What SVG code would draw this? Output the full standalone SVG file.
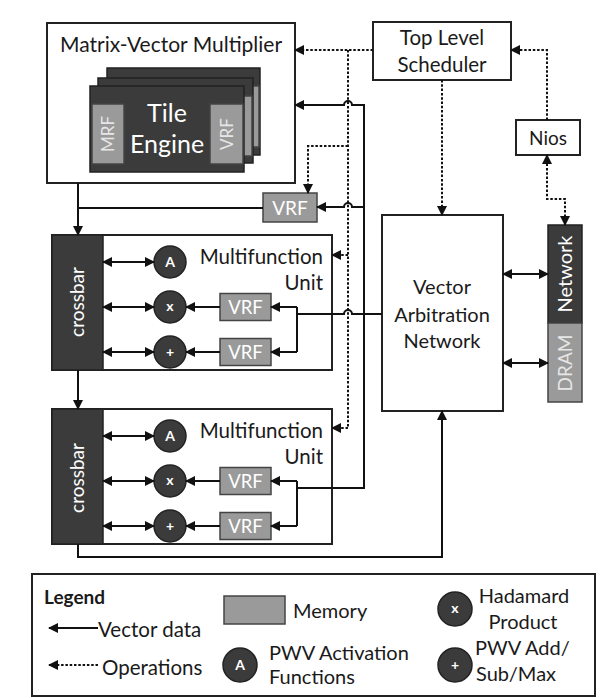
<svg xmlns="http://www.w3.org/2000/svg" width="613" height="698" viewBox="0 0 613 698">
<style>
text{font-family:Lato,"Liberation Sans",sans-serif;fill:#1a1a1a}
.box{fill:#fff;stroke:#222;stroke-width:2}
.dark{fill:#3b3b3b;stroke:#222;stroke-width:1.5}
.mem{fill:#9a9a9a;stroke:#444;stroke-width:1.5}
.wt{fill:#fff}
.lt{fill:#e6e6e6}
.c{text-anchor:middle}
.ln{fill:none;stroke:#111;stroke-width:2}
.dt{fill:none;stroke:#111;stroke-width:2;stroke-dasharray:2.5 1.8}
.a{marker-end:url(#ah)}
.aa{marker-start:url(#ah);marker-end:url(#ah)}
.op{font-weight:bold;font-size:14px;text-anchor:middle}
</style>
<defs>
<marker id="ah" viewBox="0 0 10 10" refX="9" refY="5" markerWidth="12" markerHeight="10" markerUnits="userSpaceOnUse" orient="auto-start-reverse">
<path d="M0,0 L10,5 L0,10 z" fill="#111"/>
</marker>
</defs>
<rect width="613" height="698" fill="#fff"/>

<g id="mvm">
<rect class="box" x="47" y="23" width="248" height="160"/>
<text x="60" y="52" font-size="21">Matrix-Vector Multiplier</text>
<g id="tile2"><rect class="dark" x="107" y="68" width="153" height="87"/><rect class="mem" x="226" y="86" width="33" height="61"/></g>
<g id="tile1"><rect class="dark" x="98" y="78" width="155" height="85"/><rect class="mem" x="219" y="96" width="33" height="60"/></g>
<g id="tile0">
<rect class="dark" x="90" y="86" width="154" height="86"/>
<rect class="mem" x="92" y="104" width="32" height="60"/>
<rect class="mem" x="210" y="104" width="33" height="60"/>
<text class="lt c" transform="translate(108,134) rotate(-90)" dy="6" font-size="17">MRF</text>
<text class="lt c" transform="translate(226.5,134) rotate(-90)" dy="6" font-size="17">VRF</text>
<text class="wt c" x="167" y="122" font-size="25">Tile</text>
<text class="wt c" x="167" y="153" font-size="25">Engine</text>
</g>
</g>

<g id="scheduler">
<rect class="box" x="373" y="22" width="138" height="58"/>
<text class="c" x="442" y="45" font-size="20.5">Top Level</text>
<text class="c" x="442" y="72" font-size="20.5">Scheduler</text>
</g>

<g id="nios">
<rect class="box" x="516" y="120" width="64" height="35"/>
<text class="c" x="548" y="145" font-size="19">Nios</text>
</g>

<g id="vrf-top">
<rect class="mem" x="263" y="193" width="54" height="29"/>
<text class="wt c" x="290" y="215" font-size="19">VRF</text>
</g>

<g id="mfu1">
<rect class="box" x="52" y="235" width="280" height="135"/>
<rect class="dark" x="52" y="235" width="51" height="135"/>
<text class="wt c" transform="translate(78,302) rotate(-90)" dy="6" font-size="19">crossbar</text>
<text x="323" y="264" font-size="20.5" text-anchor="end">Multifunction</text>
<text x="323" y="290" font-size="20.5" text-anchor="end">Unit</text>
<circle class="dark" cx="170" cy="262" r="16"/><text class="op wt" x="170" y="267">A</text>
<circle class="dark" cx="170" cy="307" r="16"/><text class="op wt" x="170" y="311">x</text>
<circle class="dark" cx="170" cy="352" r="16"/><text class="op wt" x="170" y="357">+</text>
<rect class="mem" x="220" y="293.5" width="51" height="27"/><text class="wt c" x="245.5" y="314" font-size="18.5">VRF</text>
<rect class="mem" x="220" y="338.5" width="51" height="27"/><text class="wt c" x="245.5" y="359" font-size="18.5">VRF</text>
</g>

<g id="mfu2">
<rect class="box" x="52" y="409" width="280" height="135"/>
<rect class="dark" x="52" y="409" width="51" height="135"/>
<text class="wt c" transform="translate(78,478) rotate(-90)" dy="6" font-size="19">crossbar</text>
<text x="323" y="438" font-size="20.5" text-anchor="end">Multifunction</text>
<text x="323" y="464" font-size="20.5" text-anchor="end">Unit</text>
<circle class="dark" cx="170" cy="436" r="16"/><text class="op wt" x="170" y="441">A</text>
<circle class="dark" cx="170" cy="481" r="16"/><text class="op wt" x="170" y="485">x</text>
<circle class="dark" cx="170" cy="526" r="16"/><text class="op wt" x="170" y="531">+</text>
<rect class="mem" x="220" y="467.5" width="51" height="27"/><text class="wt c" x="245.5" y="488" font-size="18.5">VRF</text>
<rect class="mem" x="220" y="512.5" width="51" height="27"/><text class="wt c" x="245.5" y="533" font-size="18.5">VRF</text>
</g>

<g id="van">
<rect class="box" x="382" y="215" width="121" height="196"/>
<text class="c" x="442" y="294" font-size="20">Vector</text>
<text class="c" x="442" y="322" font-size="20">Arbitration</text>
<text class="c" x="442" y="348" font-size="20">Network</text>
</g>

<g id="network-dram">
<rect class="dark" x="548" y="225" width="34" height="98"/>
<rect class="mem" x="548" y="323" width="34" height="79"/>
<text class="wt c" transform="translate(565,274) rotate(-90)" dy="7" font-size="20">Network</text>
<text class="lt c" transform="translate(565,363) rotate(-90)" dy="7" font-size="19">DRAM</text>
</g>

<g id="connectors">
<path class="ln a" d="M78,183 V235"/>
<path class="ln" d="M263,208 H78"/>
<path class="ln a" d="M78,370 V409"/>
<path class="ln a" d="M78,544 V557 H442 V411"/>
<path class="ln a" d="M297,488 H364 V105 H352 A4,4 0 0 0 344,105 H295"/>
<path class="ln a" d="M364,207 H352 A4,4 0 0 0 344,207 H317"/>
<path class="ln" d="M382,314 H352 A4,4 0 0 0 344,314 H297"/>
<path class="ln" d="M297,307 V352"/>
<path class="ln a" d="M297,307 H271"/>
<path class="ln a" d="M297,352 H271"/>
<path class="ln" d="M297,481 V526"/>
<path class="ln a" d="M297,481 H271"/>
<path class="ln a" d="M297,526 H271"/>
<path class="ln a" d="M220,307 H186"/>
<path class="ln a" d="M220,352 H186"/>
<path class="ln a" d="M220,481 H186"/>
<path class="ln a" d="M220,526 H186"/>
<path class="ln aa" d="M103,262 H154"/>
<path class="ln aa" d="M103,307 H154"/>
<path class="ln aa" d="M103,352 H154"/>
<path class="ln aa" d="M103,436 H154"/>
<path class="ln aa" d="M103,481 H154"/>
<path class="ln aa" d="M103,526 H154"/>
<path class="ln aa" d="M503,274 H548"/>
<path class="ln aa" d="M503,363 H548"/>
<path class="dt a" d="M373,50 H295"/>
<path class="dt" d="M348,50 V428"/>
<path class="dt a" d="M348,146 H308 V193"/>
<path class="dt a" d="M348,255 H332"/>
<path class="dt a" d="M348,428 H332"/>
<path class="dt a" d="M442,80 V215"/>
<path class="dt a" d="M547,120 V50 H511"/>
<path class="dt aa" d="M547,155 V199 H565 V225"/>
</g>

<g id="legend">
<rect class="box" x="32" y="574" width="563" height="122"/>
<text x="44" y="604" font-size="19" font-weight="bold">Legend</text>
<path class="ln a" d="M98,628 H49"/>
<text x="98" y="637" font-size="20.5">Vector data</text>
<path class="dt a" d="M98,665 H49"/>
<text x="102" y="675" font-size="20.5">Operations</text>
<rect class="mem" x="224" y="596" width="61" height="28"/>
<text x="293" y="618" font-size="20">Memory</text>
<circle class="dark" cx="240" cy="665" r="17"/><text class="op wt" x="240" y="670">A</text>
<text x="269" y="660" font-size="20">PWV Activation</text>
<text x="269" y="684" font-size="20">Functions</text>
<circle class="dark" cx="455" cy="609" r="17"/><text class="op wt" x="455" y="613">x</text>
<text class="c" x="524" y="603" font-size="20">Hadamard</text>
<text class="c" x="523" y="629" font-size="20">Product</text>
<circle class="dark" cx="455" cy="665" r="17"/><text class="op wt" x="455" y="670">+</text>
<text x="475" y="655" font-size="20">PWV Add/</text>
<text x="476" y="681" font-size="20">Sub/Max</text>
</g>
</svg>
